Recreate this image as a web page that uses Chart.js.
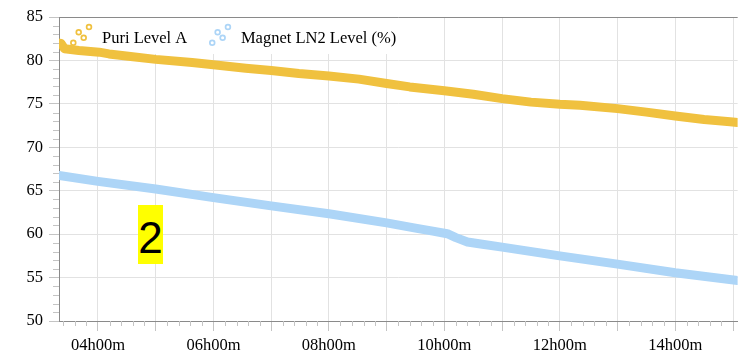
<!DOCTYPE html>
<html><head><meta charset="utf-8">
<script src="https://cdn.jsdelivr.net/npm/chart.js@4.4.0/dist/chart.umd.min.js"></script>
<style>
html,body{margin:0;padding:0;background:#fff;}
#wrap{position:relative;width:738px;height:351px;overflow:hidden;}
canvas{display:block;}
#tag{position:absolute;left:138px;top:205px;width:25px;height:59px;background:#ffff00;font-family:'Liberation Sans',Arial,sans-serif;font-size:44px;line-height:65px;text-align:center;color:#000;overflow:visible;}
</style></head><body>
<div id="wrap"><canvas id="c" width="738" height="351"></canvas><div id="tag">2</div></div>
<script>
const seriesNames = ['Puri Level A', 'Magnet LN2 Level (%)'];
const puriHours  = [3.3245, 3.36, 3.42, 3.67, 4.02, 4.19, 4.49, 5.0, 5.63, 6.0, 6.56, 7.0, 7.48, 8.0, 8.52, 9.0, 9.4, 10.0, 10.5, 11.0, 11.5, 12.0, 12.35, 13.0, 13.5, 14.0, 14.5, 14.95, 15.08];
const puriValues = [82.0, 81.95, 81.35, 81.15, 80.95, 80.75, 80.5, 80.12, 79.75, 79.5, 79.1, 78.85, 78.5, 78.2, 77.85, 77.35, 76.95, 76.5, 76.1, 75.6, 75.2, 74.95, 74.85, 74.45, 74.05, 73.6, 73.2, 72.95, 72.85];
const magnetHours  = [3.3245, 4.0, 5.0, 6.0, 7.0, 8.0, 9.0, 9.5, 9.8, 10.05, 10.2, 10.4, 10.6, 11.0, 12.0, 13.0, 14.0, 15.08];
const magnetValues = [66.75, 66.08, 65.2, 64.2, 63.25, 62.35, 61.3, 60.7, 60.35, 60.05, 59.6, 59.1, 58.9, 58.5, 57.5, 56.55, 55.55, 54.65];
const yTickValues = [50, 55, 60, 65, 70, 75, 80, 85];
const xGridHours = [4, 5, 6, 7, 8, 9, 10, 11, 12, 13, 14, 15];
const xLabelHours = [4, 6, 8, 10, 12, 14];
const xTickLabels = ['04h00m', '06h00m', '08h00m', '10h00m', '12h00m', '14h00m'];
const xMin = 3.3245, xMax = 15.08;

const YEL = '#F0C13F', BLUE = '#ADD5F7';
const FONT = "'Liberation Serif', 'Times New Roman', serif";
const GRID = '#e2e2e2', TICK = '#c4c4c4', AXIS = '#8a8a8a';

const legendPlugin = {
  id: 'lg',
  beforeDatasetsDraw(chart) {
    const c = chart.ctx, a = chart.chartArea;
    c.save();
    c.font = '16.5px ' + FONT;
    const baseY = a.top + 25.7;
    let x = a.left + 14.3;
    const items = chart.data.datasets.map(d => {
      const it = {x: x, text: d.label, color: d.borderColor};
      const w = c.measureText(d.label).width;
      it.tx = x + 28.7;
      x = it.tx + w + 25;
      it.end = it.tx + w;
      return it;
    });
    const right = items[items.length - 1].end + 6;
    c.fillStyle = '#fff';
    c.fillRect(a.left + 1, a.top + 1, right - a.left - 1, 36);
    const offs = [[0, 0], [5.4, -10.4], [10.4, -5], [15.7, -15.7]];
    items.forEach(it => {
      c.strokeStyle = it.color;
      c.lineWidth = 1.7;
      offs.forEach(o => {
        c.beginPath();
        c.arc(it.x + o[0], baseY + o[1], 2.4, 0, Math.PI * 2);
        c.stroke();
      });
      c.fillStyle = '#000';
      c.textBaseline = 'alphabetic';
      c.textAlign = 'left';
      c.fillText(it.text, it.tx, baseY);
    });
    c.restore();
  },
  afterDraw(chart) {
    const c = chart.ctx, a = chart.chartArea;
    const xs = chart.scales.x, ys = chart.scales.y;
    c.save();
    c.strokeStyle = AXIS; c.lineWidth = 1;
    c.beginPath(); c.moveTo(a.left, a.top + 0.5); c.lineTo(a.right, a.top + 0.5); c.stroke();
    c.strokeStyle = TICK;
    c.beginPath();
    for (let k = Math.ceil(xMin * 5); k <= Math.floor(xMax * 5); k++) {
      if (k % 5 === 0) continue;
      const px = Math.round(xs.getPixelForValue(k / 5)) + 0.5;
      c.moveTo(px, a.bottom); c.lineTo(px, a.bottom + 5);
    }
    for (let v = 50; v <= 85; v++) {
      if (v % 5 === 0) continue;
      const py = Math.round(ys.getPixelForValue(v)) + 0.5;
      c.moveTo(a.left - 6, py); c.lineTo(a.left, py);
    }
    c.stroke();
    c.restore();
  }
};

new Chart(document.getElementById('c').getContext('2d'), {
  type: 'line',
  data: {
    datasets: [
      {label: seriesNames[0], data: puriHours.map((h, i) => ({x: h, y: puriValues[i]})),
       borderColor: YEL, backgroundColor: YEL, borderWidth: 9, pointRadius: 0,
       borderCapStyle: 'round', borderJoinStyle: 'round', tension: 0},
      {label: seriesNames[1], data: magnetHours.map((h, i) => ({x: h, y: magnetValues[i]})),
       borderColor: BLUE, backgroundColor: BLUE, borderWidth: 9, pointRadius: 0,
       borderCapStyle: 'round', borderJoinStyle: 'round', tension: 0}
    ]
  },
  options: {
    responsive: false, animation: false, devicePixelRatio: 1,
    layout: {padding: {top: 17, left: 0, right: 0, bottom: 0}},
    plugins: {legend: {display: false}, tooltip: {enabled: false}},
    scales: {
      x: {
        type: 'linear', min: xMin, max: xMax,
        afterBuildTicks: s => { s.ticks = xGridHours.map(v => ({value: v})); },
        afterFit: s => { s.height = 30; },
        ticks: {autoSkip: false, maxRotation: 0, padding: 5, color: '#000',
          font: {family: FONT, size: 16.5},
          callback: v => { const i = xLabelHours.indexOf(v); return i >= 0 ? xTickLabels[i] : ''; }},
        grid: {color: GRID, tickColor: TICK, tickLength: 10, lineWidth: 1},
        border: {color: AXIS, width: 1}
      },
      y: {
        type: 'linear', min: 50, max: 85,
        afterBuildTicks: s => { s.ticks = yTickValues.map(v => ({value: v})); },
        afterFit: s => { s.width = 59; },
        ticks: {padding: 6, color: '#000', font: {family: FONT, size: 16.5}},
        grid: {color: GRID, tickColor: TICK, tickLength: 10, lineWidth: 1},
        border: {color: AXIS, width: 1}
      }
    }
  },
  plugins: [legendPlugin]
});
</script>
</body></html>
